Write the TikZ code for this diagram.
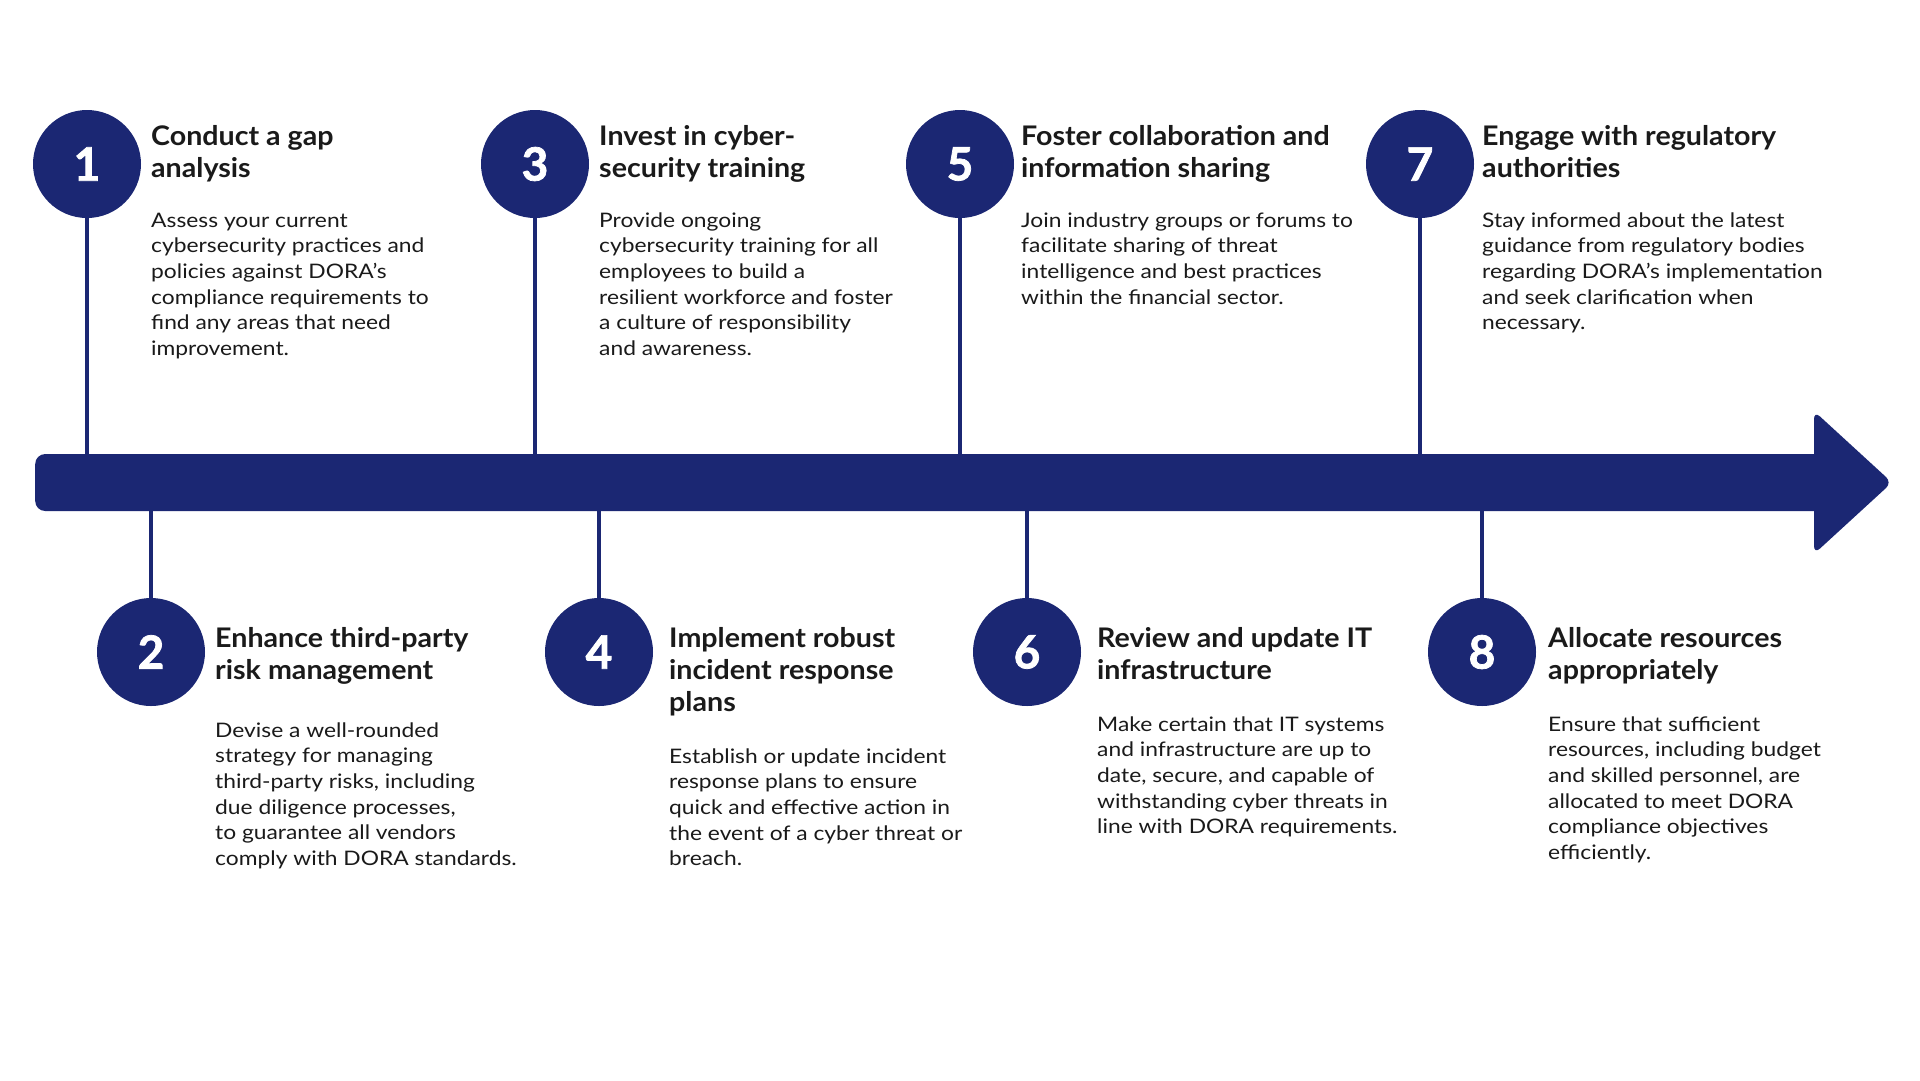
\documentclass[tikz,border=0pt]{standalone}
\usepackage{fontspec}
\setmainfont{Lato}
\newfontfamily\bodyfont{Lato}[FakeStretch=1.14]
\newfontfamily\titlefont{Lato}[FakeStretch=1.06]
\newfontfamily\digitfont{Lato}[BoldFeatures={FakeBold=1.6}]
\definecolor{navy}{HTML}{1B2773}
\definecolor{ink}{HTML}{1A1A1A}
\newcommand{\blk}[1]{\parbox[t]{600pt}{\raggedright #1}}
\tikzset{
  stepcirc/.style={circle, fill=navy, minimum size=108pt, inner sep=0pt, text=white, font=\digitfont\fontsize{46}{50}\selectfont\bfseries},
  steptitle/.style={anchor=base west, inner sep=0pt, text=ink, font=\titlefont\fontsize{27}{32}\selectfont\bfseries},
  stepbody/.style={anchor=base west, inner sep=0pt, text=ink, font=\bodyfont\fontsize{20}{25.7}\selectfont},
  stem/.style={draw=navy, line width=3.5pt},
  barstyle/.style={fill=navy, rounded corners=10pt},
}
\begin{document}
\begin{tikzpicture}[x=1pt, y=-1pt]
\useasboundingbox[fill=white] (0,0) rectangle (1920,1080);
% timeline bar and head
\node[barstyle, draw=none, rectangle, minimum width=1805pt, minimum height=57pt, inner sep=0pt, anchor=west] (bar) at (35,482.5) {};
\fill[navy, rounded corners=8pt] (1814,411) -- (1892,482.5) -- (1814,554) -- cycle;
\coordinate (bartop) at (bar.north);
\coordinate (barbot) at (bar.south);
% top row
\node[stepcirc] (c1) at (87,164) {1};
\node[stepcirc] (c3) at (535,164) {3};
\node[stepcirc] (c5) at (960,164) {5};
\node[stepcirc] (c7) at (1420,164) {7};
% bottom row
\node[stepcirc] (c2) at (151,652) {2};
\node[stepcirc] (c4) at (599,652) {4};
\node[stepcirc] (c6) at (1027,652) {6};
\node[stepcirc] (c8) at (1482,652) {8};
% stems
\foreach \c in {c1,c3,c5,c7} \draw[stem] (\c.south) -- (\c.south |- bartop);
\foreach \c in {c2,c4,c6,c8} \draw[stem] (\c.north) -- (\c.north |- barbot);
% titles top
\node[steptitle] (t1) at (151,145) {\blk{Conduct a gap\\analysis}};
\node[steptitle] (t3) at (599,145) {\blk{Invest in cyber-\\security training}};
\node[steptitle] (t5) at (1021,145) {\blk{Foster collaboration and\\information sharing}};
\node[steptitle] (t7) at (1482,145) {\blk{Engage with regulatory\\authorities}};
% bodies top
\node[stepbody] (b1) at (151,227) {\blk{Assess your current\\cybersecurity practices and\\policies against DORA’s\\compliance requirements to\\find any areas that need\\improvement.}};
\node[stepbody] (b3) at (599,227) {\blk{Provide ongoing\\cybersecurity training for all\\employees to build a\\resilient workforce and foster\\a culture of responsibility\\and awareness.}};
\node[stepbody] (b5) at (1021,227) {\blk{Join industry groups or forums to\\facilitate sharing of threat\\intelligence and best practices\\within the financial sector.}};
\node[stepbody] (b7) at (1482,227) {\blk{Stay informed about the latest\\guidance from regulatory bodies\\regarding DORA’s implementation\\and seek clarification when\\necessary.}};
% titles bottom
\node[steptitle] (t2) at (215,647.5) {\blk{Enhance third-party\\risk management}};
\node[steptitle] (t4) at (669,647.5) {\blk{Implement robust\\incident response\\plans}};
\node[steptitle] (t6) at (1097,647.5) {\blk{Review and update IT\\infrastructure}};
\node[steptitle] (t8) at (1548,647.5) {\blk{Allocate resources\\appropriately}};
% bodies bottom
\node[stepbody] (b2) at (215,737) {\blk{Devise a well-rounded\\strategy for managing\\third-party risks, including\\due diligence processes,\\to guarantee all vendors\\comply with DORA standards.}};
\node[stepbody] (b4) at (669,763) {\blk{Establish or update incident\\response plans to ensure\\quick and effective action in\\the event of a cyber threat or\\breach.}};
\node[stepbody] (b6) at (1097,731) {\blk{Make certain that IT systems\\and infrastructure are up to\\date, secure, and capable of\\withstanding cyber threats in\\line with DORA requirements.}};
\node[stepbody] (b8) at (1548,731) {\blk{Ensure that sufficient\\resources, including budget\\and skilled personnel, are\\allocated to meet DORA\\compliance objectives\\efficiently.}};
\end{tikzpicture}
\end{document}
